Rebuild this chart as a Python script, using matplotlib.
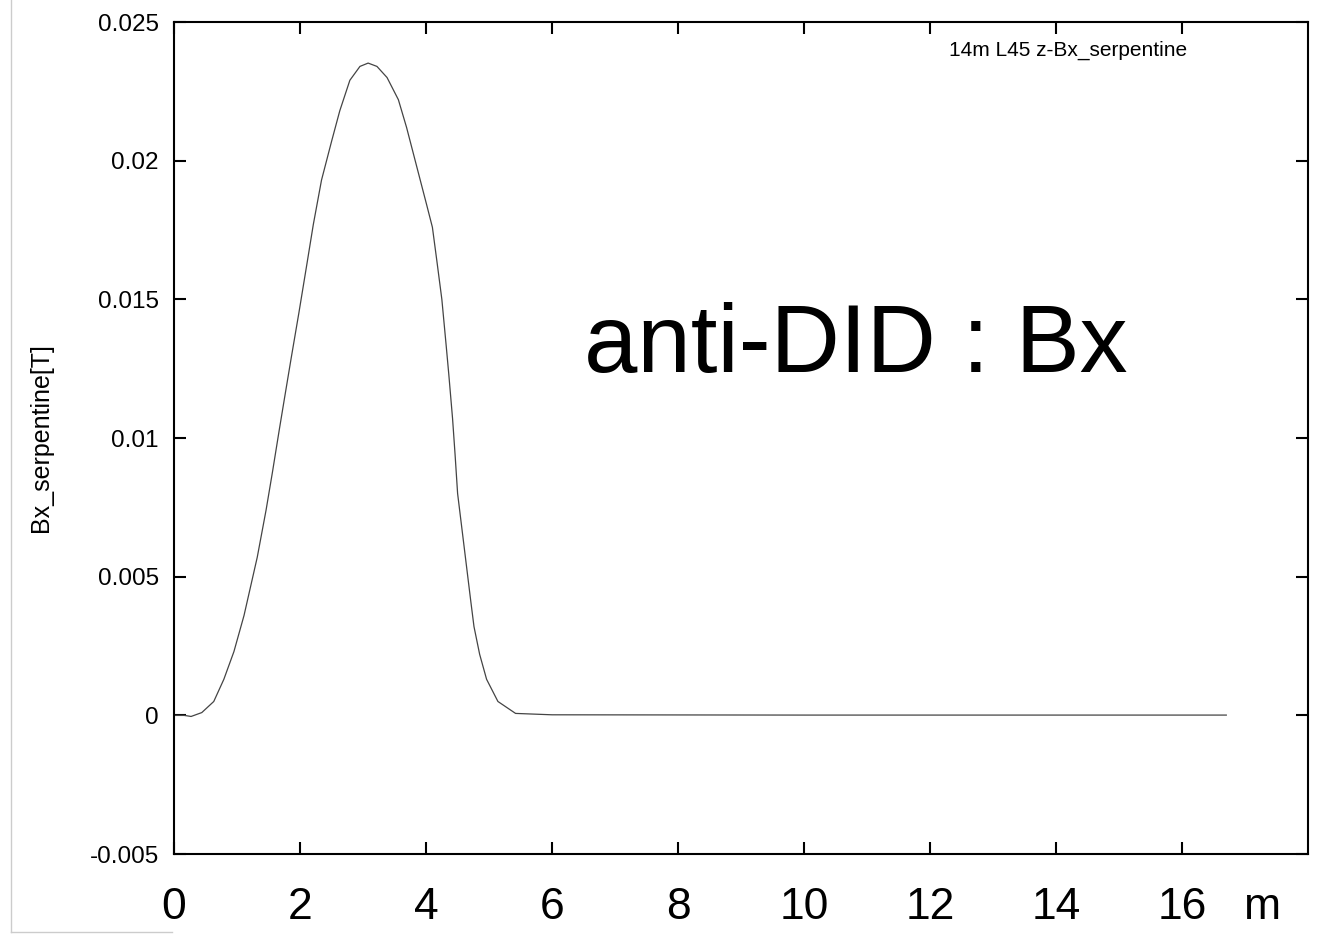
import matplotlib
matplotlib.use('Agg')
import matplotlib.pyplot as plt
from matplotlib.lines import Line2D
from matplotlib.transforms import offset_copy

plt.rcParams['font.family'] = ['Liberation Sans', 'DejaVu Sans']

# z position [m] and Bx [T]
z = [0, 0.16, 0.27, 0.44, 0.63, 0.79, 0.95, 1.11, 1.24, 1.32, 1.46, 1.56, 1.67,
     1.75, 1.86, 1.98, 2.11, 2.21, 2.34, 2.50, 2.63, 2.79, 2.95, 3.08, 3.22,
     3.38, 3.56, 3.69, 3.85, 4.01, 4.10, 4.17, 4.25, 4.32, 4.36, 4.42, 4.46,
     4.50, 4.57, 4.64, 4.71, 4.76, 4.85, 4.96, 5.14, 5.42, 6.0, 10.0, 16.7]
bx = [0, 0, -0.00004, 0.0001, 0.0005, 0.0013, 0.0023, 0.0036, 0.0049, 0.0057,
      0.0074, 0.00875, 0.0103, 0.0114, 0.0129, 0.0145, 0.0163, 0.0177, 0.0193,
      0.0207, 0.0218, 0.0229, 0.0234, 0.02352, 0.0234, 0.0230, 0.0222, 0.0212,
      0.0198, 0.0184, 0.0176, 0.0164, 0.0150, 0.0133, 0.0123, 0.0107, 0.0094,
      0.0080, 0.0067, 0.0054, 0.0041, 0.0032, 0.0022, 0.0013, 0.0005, 0.00007,
      0.00002, 0.00001, 0.00001]

xticks = [0, 2, 4, 6, 8, 10, 12, 14, 16]
xtick_labels = ['0', '2', '4', '6', '8', '10', '12', '14', '16']
yticks = [-0.005, 0, 0.005, 0.01, 0.015, 0.02, 0.025]
ytick_labels = ['-0.005', '0', '0.005', '0.01', '0.015', '0.02', '0.025']

fig = plt.figure(figsize=(13.39, 9.42), dpi=100)
ax = fig.add_axes([0.130, 0.0934, 0.847, 0.8832])

ax.plot(z, bx, color='#444444', lw=0.9)

ax.set_xlim(0, 18)
ax.set_ylim(-0.005, 0.025)
ax.set_xticks(xticks)
ax.set_xticklabels(xtick_labels)
ax.set_yticks(yticks)
ax.set_yticklabels(ytick_labels)

for s in ax.spines.values():
    s.set_linewidth(1.5)
ax.tick_params(direction='in', length=8.5, width=1.5, top=True, right=True)
ax.tick_params(axis='y', labelsize=17.5, pad=11)
ax.tick_params(axis='x', labelsize=32, pad=24)

# unit after the last x label, same height as the tick labels
unit_tr = offset_copy(ax.get_xaxis_transform(), fig=fig, x=0, y=-24, units='points')
ax.text(17.27, 0, 'm', fontsize=32, ha='center', va='top', transform=unit_tr)

ax.set_ylabel('Bx_serpentine[T]', fontsize=18)
ax.yaxis.set_label_coords(-0.107, 0.5)

ax.text(0.893, 0.966, '14m L45 z-Bx_serpentine', fontsize=15,
        ha='right', va='center', transform=ax.transAxes)
ax.text(0.601, 0.579, 'anti-DID : Bx', fontsize=69,
        ha='center', va='baseline', transform=ax.transAxes)

# light frame lines from the screenshot edge
fig.add_artist(Line2D([11 / 1339, 11 / 1339], [1, 1 - 932 / 942],
                      color='#cccccc', lw=1, transform=fig.transFigure))
fig.add_artist(Line2D([11 / 1339, 172 / 1339], [1 - 932 / 942, 1 - 932 / 942],
                      color='#cccccc', lw=1, transform=fig.transFigure))

fig.savefig('out.png', dpi=100)
